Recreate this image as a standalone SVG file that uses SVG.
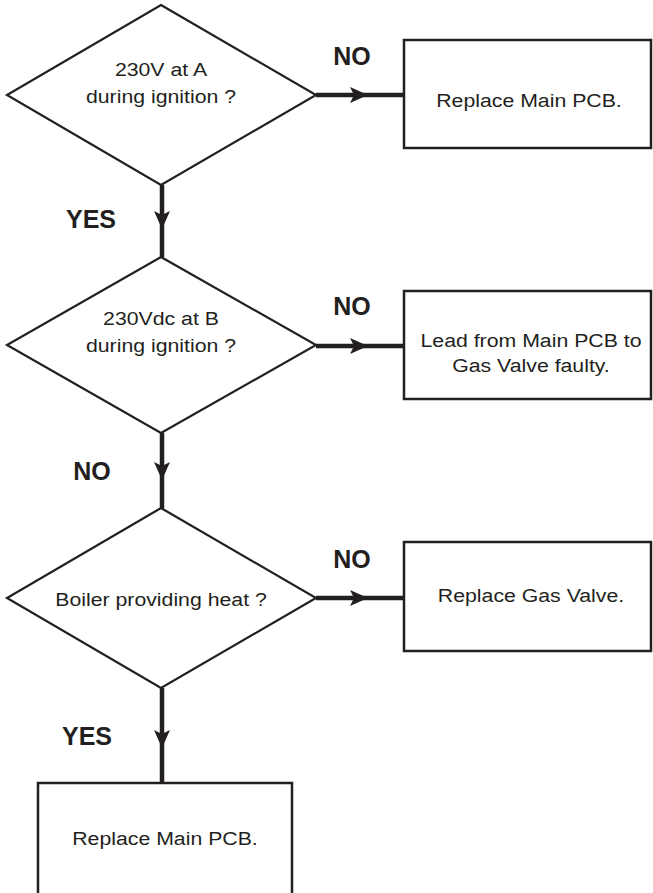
<svg xmlns="http://www.w3.org/2000/svg" width="653" height="893" viewBox="0 0 653 893">
<style>
.shape{fill:#fff;stroke:#231f20;stroke-width:2.2}
.box{fill:#fff;stroke:#231f20;stroke-width:2.5}
.conn{stroke:#231f20;stroke-width:4.5;fill:none}
.head{fill:#231f20;stroke:none}
.t{font-family:"Liberation Sans",Arial,sans-serif;font-size:19px;fill:#231f20;text-anchor:middle}
.lbl{font-family:"Liberation Sans",Arial,sans-serif;font-size:25px;font-weight:bold;fill:#231f20;text-anchor:middle}
</style>
<rect width="653" height="893" fill="#fff"/>
<g id="connectors">
<line class="conn" x1="162" y1="185" x2="162" y2="257"/>
<path class="head" d="M162,229 L154,211 L162,215 L170,211 Z"/>
<line class="conn" x1="162" y1="433" x2="162" y2="508"/>
<path class="head" d="M162,480 L154,462 L162,466 L170,462 Z"/>
<line class="conn" x1="162" y1="688" x2="162" y2="783"/>
<path class="head" d="M162,748 L154,730 L162,734 L170,730 Z"/>
<line class="conn" x1="316" y1="95" x2="404" y2="95"/>
<path class="head" d="M368,95 L350,87 L354,95 L350,103 Z"/>
<line class="conn" x1="316" y1="346" x2="404" y2="346"/>
<path class="head" d="M368,346 L350,338 L354,346 L350,354 Z"/>
<line class="conn" x1="316" y1="598" x2="404" y2="598"/>
<path class="head" d="M368,598 L350,590 L354,598 L350,606 Z"/>
<text class="lbl" x="91" y="228">YES</text>
<text class="lbl" x="92" y="480">NO</text>
<text class="lbl" x="87" y="745">YES</text>
<text class="lbl" x="352" y="65">NO</text>
<text class="lbl" x="352" y="315">NO</text>
<text class="lbl" x="352" y="568">NO</text>
</g>
<g id="d1">
<polygon class="shape" points="161,5 316,95 161,185 7,95"/>
<text class="t" transform="translate(161,76) scale(1.12,1)">230V at A</text>
<text class="t" transform="translate(161,103) scale(1.12,1)">during ignition ?</text>
</g>
<g id="b1">
<rect class="box" x="404" y="40" width="247" height="108"/>
<text class="t" transform="translate(529,107) scale(1.12,1)">Replace Main PCB.</text>
</g>
<g id="d2">
<polygon class="shape" points="161,257 316,345 161,433 7,345"/>
<text class="t" transform="translate(161,325) scale(1.12,1)">230Vdc at B</text>
<text class="t" transform="translate(161,352) scale(1.12,1)">during ignition ?</text>
</g>
<g id="b2">
<rect class="box" x="404" y="291" width="247" height="108"/>
<text class="t" transform="translate(531,347) scale(1.12,1)">Lead from Main PCB to</text>
<text class="t" transform="translate(531,372) scale(1.12,1)">Gas Valve faulty.</text>
</g>
<g id="d3">
<polygon class="shape" points="161,508 316,598 161,688 7,598"/>
<text class="t" transform="translate(161,606) scale(1.12,1)">Boiler providing heat ?</text>
</g>
<g id="b3">
<rect class="box" x="404" y="542" width="247" height="109"/>
<text class="t" transform="translate(531,602) scale(1.12,1)">Replace Gas Valve.</text>
</g>
<g id="b4">
<rect class="box" x="38" y="783" width="254" height="130"/>
<text class="t" transform="translate(165,845) scale(1.12,1)">Replace Main PCB.</text>
</g>
</svg>
